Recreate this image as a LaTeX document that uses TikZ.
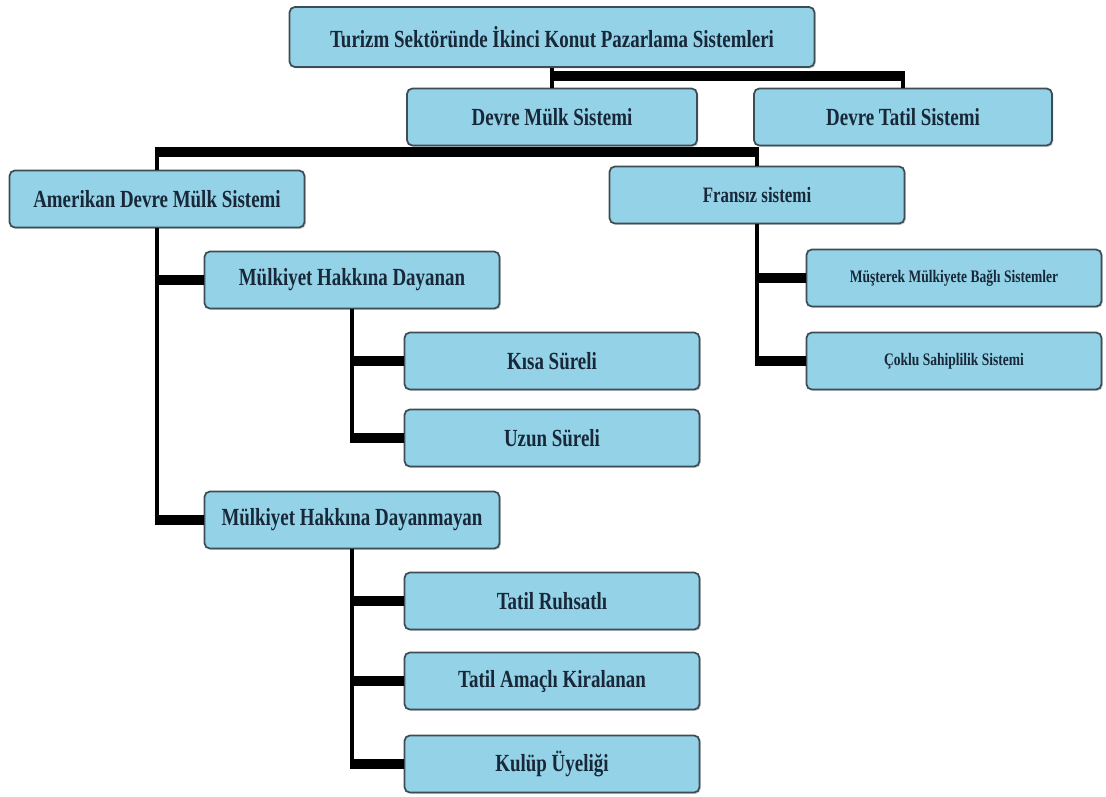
\documentclass[tikz,border=0pt]{standalone}
\usepackage{fontspec}
\setmainfont{Liberation Serif}[FakeStretch=0.77]
\usepackage{tikz}
\usetikzlibrary{positioning,calc,shadows}
\definecolor{boxfill}{RGB}{148,210,232}
\definecolor{boxline}{RGB}{62,76,84}
\definecolor{boxtext}{RGB}{24,40,56}
\tikzset{
    x=0.02cm,
    y=-0.02cm,
    block/.style = {
        draw=boxline,
        fill=boxfill,
        shape=rectangle,
        rounded corners=3pt,
        minimum height=1.14cm,
        minimum width=5.9cm,
        line width=1pt,
        text=boxtext,
        font=\bfseries\fontsize{14}{16}\selectfont,
        drop shadow={shadow xshift=0.8pt, shadow yshift=-0.8pt, opacity=0.35}
    },
    wide/.style = {
        block,
        minimum width=10.5cm,
        minimum height=1.2cm
    },
    small/.style = {
        block,
        font=\bfseries\fontsize{10}{12}\selectfont
    },
    stem/.style = {
        draw,
        line width=2.6pt
    },
    bar/.style = {
        draw,
        line width=5.2pt,
        shorten <=-1.3pt
    },
    mainbar/.style = {
        bar,
        shorten >=-1.3pt
    },
}

\begin{document}
\begin{tikzpicture}
        \useasboundingbox (0,0) rectangle (1106,796);

        \node[wide] (turizm) at (552,37) {Turizm Sektöründe İkinci Konut Pazarlama Sistemleri};
        \node[block, minimum width=5.8cm] (devremulk) at (552,117) {Devre Mülk Sistemi};
        \node[block, minimum width=5.96cm] (devretatil) at (903,117) {Devre Tatil Sistemi};

        \node[block] (amerikan) at (157,199) {Amerikan Devre Mülk Sistemi};
        \node[block, font=\bfseries\fontsize{12.5}{14}\selectfont] (fransiz) at (757,195) {Fransız sistemi};

        \node[block] (dayanan) at (352,280) {Mülkiyet Hakkına Dayanan};
        \node[block] (kisa) at (552,361) {Kısa Süreli};
        \node[block] (uzun) at (552,438) {Uzun Süreli};

        \node[block] (dayanmayan) at (352,520) {Mülkiyet Hakkına Dayanmayan};
        \node[block] (ruhsatli) at (552,601) {Tatil Ruhsatlı};
        \node[block] (kiralanan) at (552,681) {Tatil Amaçlı Kiralanan};
        \node[block] (kulup) at (552,764) {Kulüp Üyeliği};

        \node[small] (musterek) at (954,278) {Müşterek Mülkiyete Bağlı Sistemler};
        \node[small] (coklu) at (954,361) {Çoklu Sahiplilik Sistemi};

        \coordinate (top) at (552,76);
        \coordinate (mid) at (552,152);

        % first level
        \path[stem] (turizm) -- (devremulk);
        \path[mainbar] (turizm.south |- top) -- (devretatil.north |- top);
        \path[stem] (devretatil.north |- top) -- (devretatil);

        % second level
        \path[mainbar] (amerikan.north |- mid) -- (fransiz.north |- mid);
        \path[stem] (amerikan.north |- mid) -- (amerikan);
        \path[stem] (fransiz.north |- mid) -- (fransiz);

        % american branch
        \path[stem] (amerikan) -- (amerikan.south |- dayanmayan);
        \path[bar] (amerikan.south |- dayanan) -- (dayanan.west);
        \path[bar] (amerikan.south |- dayanmayan) -- (dayanmayan.west);

        \path[stem] (dayanan) -- (dayanan.south |- uzun);
        \path[bar] (dayanan.south |- kisa) -- (kisa.west);
        \path[bar] (dayanan.south |- uzun) -- (uzun.west);

        \path[stem] (dayanmayan) -- (dayanmayan.south |- kulup);
        \path[bar] (dayanmayan.south |- ruhsatli) -- (ruhsatli.west);
        \path[bar] (dayanmayan.south |- kiralanan) -- (kiralanan.west);
        \path[bar] (dayanmayan.south |- kulup) -- (kulup.west);

        % french branch
        \path[stem] (fransiz) -- (fransiz.south |- coklu);
        \path[bar] (fransiz.south |- musterek) -- (musterek.west);
        \path[bar] (fransiz.south |- coklu) -- (coklu.west);
    \end{tikzpicture}
\end{document}
